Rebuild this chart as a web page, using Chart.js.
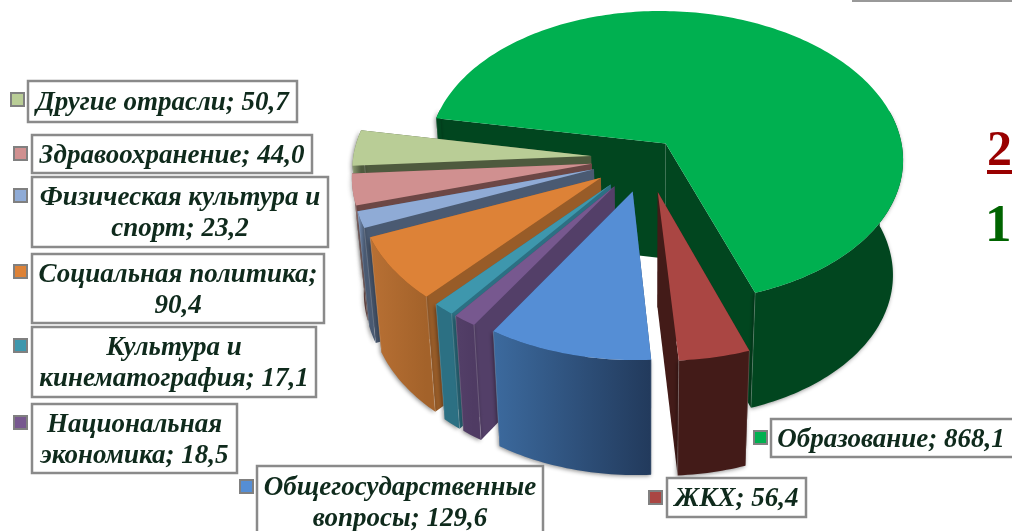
<!DOCTYPE html>
<html><head><meta charset="utf-8">
<script src="https://cdn.jsdelivr.net/npm/chart.js@4"></script>
<style>html,body{margin:0;padding:0;background:#fff;overflow:hidden}canvas{display:block}</style>
</head><body><canvas id="c" width="1012" height="531"></canvas>
<script>
const categories = ['Образование','ЖКХ','Общегосударственные вопросы','Национальная экономика','Культура и кинематография','Социальная политика','Физическая культура и спорт','Здравоохранение','Другие отрасли'];
const values = [868.1,56.4,129.6,18.5,17.1,90.4,23.2,44.0,50.7];
const explodeOffsets = [31,55,55,55,55,55,55,55,55];
const topColors = ['#00B050','#AA4643','#558ED5','#77588F','#3E97AD','#DD8237','#8FABD6','#D09090','#B9CD96'];
const sideColors = ['#01461F','#431B18','#2A4A72','#533F68','#2C7083','#985C28','#4A5A72','#6C4745','#4E5A3E'];
const outerLeft = ['#01461F','#431B18','#3C6A9E','#533F68','#2C7083','#B87034','#7F99C2','#B08080','#8A9A70'];
const outerRight = ['#01461F','#431B18','#223A5C','#4F3B63','#2C7083','#A3622A','#4A5A72','#6C4745','#4E5A3E'];
const labelBoxes = [[771,419,250,38],[667,478,139,39],[257,466,286,80],[32,404,205,69],[32,327,284,70],[32,254,292,69],[32,177,296,70],[32,135,280,38],[28,81,269,41]];
const keyBoxes = [[754,431],[649,491],[240,480],[14,416],[14,339],[14,265],[14,189],[14,147],[11,93]];
const drawOrder = [0,8,7,6,5,4,3,2,1];

const V = {cx:646, cy:158, rx:238, ry:147, p:0.09, shear:4, depth:115, vx:650, bottomScale:0.96};
function proj(u,v){const w=1-V.p*v;return [V.cx+(V.rx*u+V.shear*v)/w, V.cy+V.ry*v/w];}
function drop(P){return [V.vx+(P[0]-V.vx)*V.bottomScale, P[1]+V.depth];}
function poly(ctx,pts){ctx.beginPath();pts.forEach((p,i)=>i?ctx.lineTo(p[0],p[1]):ctx.moveTo(p[0],p[1]));ctx.closePath();}

const pie3d = {
  id:'pie3d',
  beforeDatasetsDraw(chart){
    const ctx=chart.ctx, arcs=chart.getDatasetMeta(0).data;
    drawOrder.forEach(i=>{
      const a=arcs[i], R=a.outerRadius, mid=(a.startAngle+a.endAngle)/2, e=a.options.offset/R;
      const ou=e*Math.cos(mid), ov=e*Math.sin(mid);
      const apex=proj(ou,ov), rim=[], runs=[], n=Math.max(3,Math.ceil((a.endAngle-a.startAngle)/0.02));
      let run=null;
      for(let k=0;k<=n;k++){
        const t=a.startAngle+(a.endAngle-a.startAngle)*k/n, P=proj(ou+Math.cos(t),ov+Math.sin(t));
        rim.push(P);
        if(Math.sin(t)>-0.25){if(!run){run=[];runs.push(run);}run.push(P);}else run=null;
      }
      const first=rim[0], last=rim[rim.length-1];
      ctx.save();
      // radial walls
      ctx.fillStyle=sideColors[i];
      [first,last].forEach(P=>{poly(ctx,[apex,P,drop(P),drop(apex)]);ctx.fill();});
      // outer wall (camera-facing part of the rim only)
      const xs=rim.map(p=>p[0]);
      const g=ctx.createLinearGradient(Math.min(...xs),0,Math.max(...xs),0);
      g.addColorStop(0,outerLeft[i]);g.addColorStop(1,outerRight[i]);
      ctx.save();
      ctx.shadowColor='rgba(0,0,0,0.45)';ctx.shadowBlur=4;ctx.shadowOffsetX=-1;ctx.shadowOffsetY=1;
      ctx.fillStyle=g;
      runs.filter(r=>r.length>1).forEach(r=>{poly(ctx,r.concat(r.map(drop).reverse()));ctx.fill();});
      ctx.restore();
      // corner lines
      ctx.strokeStyle='rgba(255,255,255,0.18)';ctx.lineWidth=1;
      [first,last].forEach(P=>{const D=drop(P);ctx.beginPath();ctx.moveTo(P[0],P[1]);ctx.lineTo(D[0],D[1]);ctx.stroke();});
      // top face
      ctx.fillStyle=a.options.backgroundColor;
      poly(ctx,[apex].concat(rim));ctx.fill();
      ctx.restore();
    });
    return false;
  },
  afterDraw(chart){
    const ctx=chart.ctx;
    ctx.save();
    const font='italic bold 27px "Liberation Serif"';
    categories.forEach((c,i)=>{
      const [x,y,w,h]=labelBoxes[i], [kx,ky]=keyBoxes[i];
      ctx.fillStyle='#fff';ctx.strokeStyle='#8a8a8a';ctx.lineWidth=2.5;
      ctx.fillRect(x,y,w,h);ctx.strokeRect(x,y,w,h);
      ctx.fillStyle=topColors[i];ctx.strokeStyle='#808080';ctx.lineWidth=2;
      ctx.fillRect(kx,ky,13,13);ctx.strokeRect(kx,ky,13,13);
      ctx.font=font;ctx.fillStyle='#0f2a1c';ctx.textAlign='center';ctx.textBaseline='middle';
      const text=c+'; '+values[i].toFixed(1).replace('.',',');
      const lines=[];let cur='';
      text.split(' ').forEach(wd=>{const t=cur?cur+' '+wd:wd;if(ctx.measureText(t).width>w-8&&cur){lines.push(cur);cur=wd;}else cur=t;});
      lines.push(cur);
      const lh=31, tx=i===0?891:x+w/2, ty=i===2?y+22:y+h/2-(lines.length-1)*lh/2+2;
      lines.forEach((l,k)=>ctx.fillText(l,tx,ty+k*lh));
    });
    ctx.textAlign='left';ctx.textBaseline='alphabetic';
    ctx.font='bold 50px "Liberation Serif"';ctx.fillStyle='#990000';ctx.fillText('2',987,165);
    ctx.fillRect(987,170,25,4);
    ctx.font='bold 53px "Liberation Serif"';ctx.fillStyle='#006400';ctx.fillText('1',985,241);
    ctx.fillStyle='#999';ctx.fillRect(852,0,160,2);
    ctx.restore();
  }
};

new Chart(document.getElementById('c'),{
  type:'pie',
  data:{labels:categories,datasets:[{data:values,backgroundColor:topColors,offset:explodeOffsets,borderWidth:0,hoverOffset:0}]},
  options:{responsive:false,animation:false,rotation:-79.7,layout:{padding:0},
    plugins:{legend:{display:false},tooltip:{enabled:false},title:{display:false}}},
  plugins:[pie3d]
});
</script></body></html>
